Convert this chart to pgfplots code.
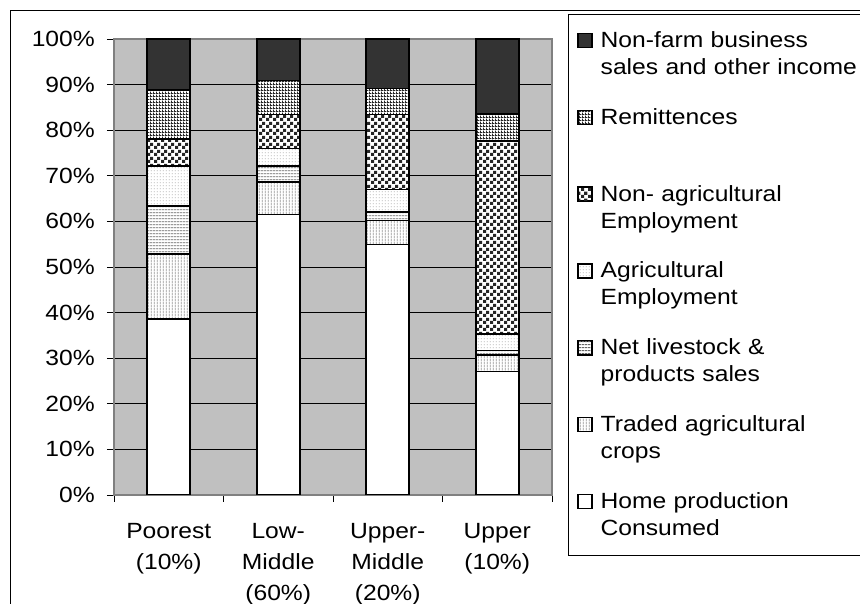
\documentclass[border=0pt]{standalone}
\usepackage{fontspec}
\setmainfont{Liberation Sans}[FakeStretch=1.12]
\usepackage{pgfplots}
\pgfplotsset{compat=1.18}
\usetikzlibrary{patterns}
\definecolor{bg}{HTML}{C0C0C0}
\definecolor{frame}{HTML}{808080}
\definecolor{dark}{HTML}{333333}
\pgfdeclarepatternformonly{myvlines}{\pgfqpoint{0pt}{0pt}}{\pgfqpoint{3pt}{3pt}}{\pgfqpoint{3pt}{3pt}}{%
  \pgfpathrectangle{\pgfqpoint{1pt}{0pt}}{\pgfqpoint{1.2pt}{3pt}}\pgfusepath{fill}}
\pgfdeclarepatternformonly{myhlines}{\pgfqpoint{0pt}{0pt}}{\pgfqpoint{3pt}{3pt}}{\pgfqpoint{3pt}{3pt}}{%
  \pgfpathrectangle{\pgfqpoint{0pt}{1pt}}{\pgfqpoint{3pt}{1.3pt}}\pgfusepath{fill}}
\pgfdeclarepatternformonly{mydots}{\pgfqpoint{0pt}{0pt}}{\pgfqpoint{3pt}{3pt}}{\pgfqpoint{3pt}{3pt}}{%
  \pgfpathrectangle{\pgfqpoint{1pt}{1pt}}{\pgfqpoint{1pt}{1pt}}\pgfusepath{fill}}
\pgfdeclarepatternformonly{mycheck}{\pgfqpoint{0pt}{0pt}}{\pgfqpoint{7pt}{7pt}}{\pgfqpoint{7pt}{7pt}}{%
  \pgfpathrectangle{\pgfqpoint{0pt}{0pt}}{\pgfqpoint{3.5pt}{3.5pt}}%
  \pgfpathrectangle{\pgfqpoint{3.5pt}{3.5pt}}{\pgfqpoint{3.5pt}{3.5pt}}\pgfusepath{fill}}
\pgfdeclarepatternformonly{mygrid}{\pgfqpoint{0pt}{0pt}}{\pgfqpoint{3pt}{3pt}}{\pgfqpoint{3pt}{3pt}}{%
  \pgfpathrectangle{\pgfqpoint{0pt}{0pt}}{\pgfqpoint{1.2pt}{3pt}}%
  \pgfpathrectangle{\pgfqpoint{0pt}{0pt}}{\pgfqpoint{3pt}{1.2pt}}\pgfusepath{fill}}
\pgfplotsset{
  mylegend/.style={legend image code/.code={\draw[##1, line width=1.2pt] (0pt,0pt) rectangle (14pt,14pt);}},
  seg/.style={mylegend, draw=black, line width=1.6pt},
}
\begin{document}
\begin{tikzpicture}
\useasboundingbox (-114pt,-109pt) rectangle (746pt,495pt);
\begin{axis}[
  at={(0pt,0pt)}, anchor=south west,
  width=438pt, height=456pt, scale only axis,
  ybar stacked, bar width=43pt,
  xmin=-0.5, xmax=3.5, ymin=0, ymax=100,
  xtick={0,1,2,3},
  xticklabels={{Poorest\\(10\%)},{Low-\\Middle\\(60\%)},{Upper-\\Middle\\(20\%)},{Upper\\(10\%)}},
  minor xtick={-0.5,0.5,1.5,2.5,3.5},
  ytick={0,10,...,100},
  yticklabel={\pgfmathprintnumber{\tick}\%},
  /pgf/number format/assume math mode=true,
  xtick pos=bottom, ytick pos=left,
  tick align=outside,
  major tick length=7pt, minor tick length=7pt,
  major x tick style={draw=none},
  tick style={black, line width=0.8pt},
  ymajorgrids, grid style={black, line width=0.8pt},
  axis background/.style={fill=bg},
  axis line style={frame, line width=1.5pt},
  ticklabel style={font=\fontsize{22}{31}\selectfont},
  xticklabel style={align=center, anchor=north, inner sep=0pt, yshift=-21pt},
  yticklabel style={anchor=east, inner sep=0pt, xshift=-12pt},
  reverse legend,
  legend style={
    at={(1.0365,1.0548)}, anchor=north west,
    draw=black, line width=1pt, fill=white,
    inner xsep=9pt, inner ysep=14pt,
    row sep=24.8pt, column sep=8pt,
    font=\fontsize{22}{27}\selectfont,
    cells={anchor=base west},
    nodes={inner sep=0pt, text width=270pt, text height=19pt, text depth=33pt, align=left},
  },
]
\addplot[seg, fill=white] coordinates {(0,38.6) (1,61.5) (2,54.9) (3,27.1)};
\addlegendentry{Home production\\Consumed}
\addplot[seg, preaction={fill=white}, pattern=myvlines, pattern color=gray!80] coordinates {(0,14.3) (1,7.2) (2,5.3) (3,3.6)};
\addlegendentry{Traded agricultural\\crops}
\addplot[seg, preaction={fill=white}, pattern=myhlines, pattern color=black!60] coordinates {(0,10.5) (1,3.5) (2,1.9) (3,1.0)};
\addlegendentry{Net livestock \&\\products sales}
\addplot[seg, preaction={fill=white}, pattern=mydots, pattern color=gray!80] coordinates {(0,8.8) (1,3.8) (2,4.9) (3,3.6)};
\addlegendentry{Agricultural\\Employment}
\addplot[seg, preaction={fill=white}, pattern=mycheck, pattern color=black!85] coordinates {(0,5.9) (1,7.4) (2,16.4) (3,42.3)};
\addlegendentry{Non- agricultural\\Employment}
\addplot[seg, preaction={fill=white}, pattern=mygrid, pattern color=black!85] coordinates {(0,10.7) (1,7.5) (2,5.7) (3,6.0)};
\addlegendentry{Remittences}
\addplot[seg, fill=dark] coordinates {(0,11.2) (1,9.1) (2,10.9) (3,16.4)};
\addlegendentry{Non-farm business\\sales and other income}
\end{axis}
\draw[black, line width=1pt] (-103.5pt,-150pt) -- (-103.5pt,484.5pt) -- (800pt,484.5pt);
\end{tikzpicture}
\end{document}
